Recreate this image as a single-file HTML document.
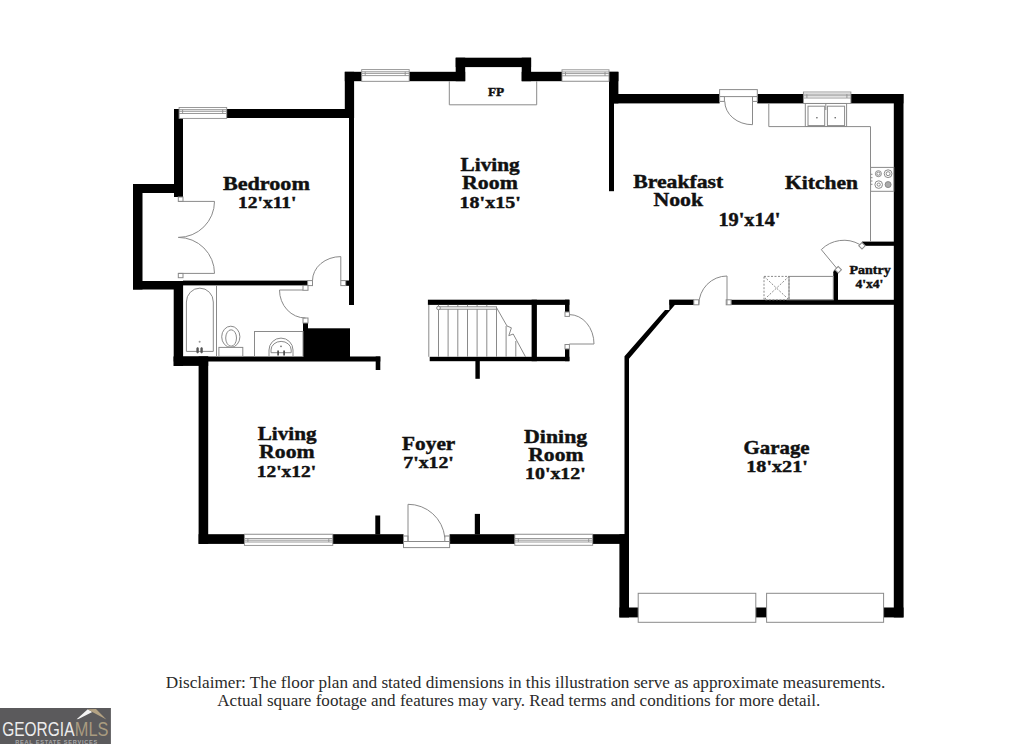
<!DOCTYPE html>
<html><head><meta charset="utf-8">
<style>
html,body{margin:0;padding:0;background:#fff;width:1024px;height:744px;overflow:hidden}
svg{display:block}
.w{fill:#000}
.t{fill:none;stroke:#8a8a8a;stroke-width:1}
.tw{fill:#fff;stroke:#8a8a8a;stroke-width:1}
.lbl{font-family:"Liberation Serif",serif;font-weight:bold;fill:#111;stroke:#111;stroke-width:0.45}
</style></head>
<body>
<svg width="1024" height="744" viewBox="0 0 1024 744">
<!-- WALLS -->
<g class="w">
<!-- closet -->
<rect x="133" y="184" width="50" height="9"/>
<rect x="133" y="184" width="9.5" height="105.5"/>
<rect x="133" y="281" width="50" height="8.5"/>
<!-- bedroom -->
<rect x="174" y="109" width="9" height="88"/>
<rect x="174" y="109" width="180" height="9"/>
<rect x="183" y="280.6" width="125" height="4.8"/>
<rect x="345.7" y="280.5" width="3.5" height="5.3"/>
<!-- living room upper left -->
<rect x="344.8" y="71.8" width="9.3" height="46.2"/>
<rect x="349" y="118" width="5" height="187"/>
<!-- living top wall -->
<rect x="344.8" y="71.8" width="120.4" height="9.4"/>
<rect x="521.7" y="71.8" width="96.7" height="9.4"/>
<!-- FP bump -->
<rect x="455.7" y="57.7" width="75.4" height="9.4"/>
<rect x="455.7" y="57.7" width="9.5" height="23.5"/>
<rect x="521.7" y="57.7" width="9.4" height="23.5"/>
<!-- living right upper -->
<rect x="609" y="71.8" width="9.4" height="31.6"/>
<rect x="609" y="94" width="110.6" height="9.4"/>
<rect x="757.3" y="94" width="146.1" height="9.4"/>
<rect x="609" y="94" width="5" height="97.2"/>
<!-- right outer wall -->
<rect x="893.8" y="94" width="9.7" height="523.4"/>
<!-- pantry -->
<rect x="862" y="241.6" width="32" height="4.2"/>
<path d="M833.3 272.3 A2.35 2.35 0 0 1 838 272.3 L838 302 L833.3 302 Z"/>
<!-- kitchen / garage wall -->
<rect x="669.4" y="299.8" width="24.4" height="5"/>
<rect x="731.1" y="299.8" width="163" height="5"/>
<polygon points="669.3,299.8 694,299.8 694,304.8 675,304.8 629,358.8 629,544 624.5,544 624.5,356.3 665,309.9 669.3,309.9"/>
<!-- garage -->
<rect x="619.4" y="534.2" width="9.6" height="83.2"/>
<rect x="619.4" y="607.5" width="284.1" height="9.9"/>
<!-- main bottom wall -->
<rect x="198.6" y="534.2" width="204.9" height="9.7"/>
<rect x="449.6" y="534.2" width="179.4" height="9.7"/>
<!-- living 12x12 left -->
<rect x="198.6" y="356.5" width="9.6" height="187.4"/>
<!-- bathroom -->
<rect x="173.7" y="356.5" width="206.6" height="5"/>
<rect x="173.7" y="356.5" width="34.5" height="9.4"/>
<rect x="375.7" y="356.5" width="4.6" height="13.5"/>
<rect x="173.7" y="281" width="9.4" height="85"/>
<rect x="303" y="323" width="5" height="34"/>
<rect x="303" y="328.3" width="47" height="28.8"/>
<!-- stairs -->
<rect x="427.9" y="299.7" width="141.5" height="5.2"/>
<rect x="429.7" y="356.8" width="139.7" height="4.4"/>
<rect x="531.6" y="299.7" width="5.3" height="61.5"/>
<rect x="565" y="299.7" width="4.4" height="12.3"/>
<rect x="565" y="349" width="4.4" height="12.2"/>
<rect x="475.4" y="361" width="4.4" height="17.8"/>
<!-- front stubs -->
<rect x="375.3" y="515.5" width="4.9" height="19"/>
<rect x="474.8" y="513.9" width="5.2" height="20.5"/>
</g>
<!-- WINDOWS -->
<g stroke="#8f8f8f" stroke-width="0.9">
<rect x="179.1" y="107.5" width="47.6" height="10.9" fill="#fff"/><line x1="179.1" y1="109.65" x2="226.7" y2="109.65"/><line x1="179.1" y1="111.30" x2="226.7" y2="111.30"/><line x1="179.1" y1="113.50" x2="226.7" y2="113.50"/><path d="M182.6 109.65V113.50M222.7 109.65V113.50"/>
<rect x="361.7" y="69.6" width="47.5" height="11.7" fill="#fff"/><line x1="361.7" y1="71.75" x2="409.2" y2="71.75"/><line x1="361.7" y1="73.40" x2="409.2" y2="73.40"/><line x1="361.7" y1="75.60" x2="409.2" y2="75.60"/><path d="M365.2 71.75V75.60M405.2 71.75V75.60"/>
<rect x="562" y="69.8" width="47.0" height="11.4" fill="#fff"/><line x1="562" y1="71.95" x2="609" y2="71.95"/><line x1="562" y1="73.60" x2="609" y2="73.60"/><line x1="562" y1="75.80" x2="609" y2="75.80"/><path d="M565.5 71.95V75.80M605.0 71.95V75.80"/>
<rect x="803.4" y="92" width="47.5" height="11.4" fill="#fff"/><line x1="803.4" y1="94.15" x2="850.9" y2="94.15"/><line x1="803.4" y1="95.80" x2="850.9" y2="95.80"/><line x1="803.4" y1="98.00" x2="850.9" y2="98.00"/><path d="M806.9 94.15V98.00M846.9 94.15V98.00"/>
<rect x="244.4" y="534.2" width="88.4" height="11.2" fill="#fff"/><line x1="244.4" y1="538.50" x2="332.8" y2="538.50"/><line x1="244.4" y1="540.20" x2="332.8" y2="540.20"/><line x1="244.4" y1="542.00" x2="332.8" y2="542.00"/><path d="M247.9 538.50V542.00M328.8 538.50V542.00"/>
<rect x="514.8" y="534.2" width="77.9" height="11.1" fill="#fff"/><line x1="514.8" y1="538.50" x2="592.7" y2="538.50"/><line x1="514.8" y1="540.20" x2="592.7" y2="540.20"/><line x1="514.8" y1="542.00" x2="592.7" y2="542.00"/><path d="M518.3 538.50V542.00M588.7 538.50V542.00"/>
</g>
<!-- DOORS -->
<g class="t">
<!-- closet double doors -->
<rect class="tw" x="178.3" y="197" width="4.7" height="4.4"/>
<path d="M178.3 201.4 H214.5 A36.2 36 0 0 1 178.3 237.4"/>
<rect class="tw" x="178.3" y="273.4" width="4.7" height="4.3"/>
<path d="M178.3 273.4 H214.5 A36.2 36 0 0 0 178.3 237.4"/>
<!-- bedroom door -->
<rect class="tw" x="307.6" y="280.6" width="4.9" height="5"/>
<rect class="tw" x="340.8" y="280.6" width="4.9" height="5"/>
<path d="M340.8 280.6 V256.6 A28.3 24 0 0 0 312.5 280.6"/>
<!-- bath door -->
<rect class="tw" x="303" y="285.4" width="5" height="4.9"/>
<rect class="tw" x="303" y="318" width="5" height="5"/>
<path d="M303 290 H279.5 A26 28 0 0 0 305.5 318"/>
<!-- breakfast exterior door -->
<rect class="tw" x="719.6" y="89.6" width="37.7" height="7"/>
<rect class="tw" x="719.6" y="96.6" width="4.8" height="4.8"/>
<rect class="tw" x="752.5" y="96.6" width="4.8" height="4.8"/>
<path d="M752.5 101.4 V124.7 A27.7 23.3 0 0 1 724.8 101.4"/>
<!-- pantry door -->
<rect class="tw" x="859.7" y="243.4" width="4.6" height="4.6" transform="rotate(45 862 245.7)"/>
<rect class="tw" x="835.9" y="267.5" width="4.6" height="4.6" transform="rotate(45 838.2 269.8)"/>
<path d="M836.5 268 L821.3 249.6 A32 32 0 0 1 859.8 244.5"/>
<!-- kitchen-garage door -->
<rect class="tw" x="693.8" y="299.8" width="5" height="5"/>
<rect class="tw" x="726.2" y="299.8" width="4.9" height="5"/>
<path d="M727 304.8 V276 A28.2 28.8 0 0 0 698.8 304.8"/>
<!-- stair closet door -->
<rect class="tw" x="565" y="312" width="4.4" height="4.4"/>
<rect class="tw" x="565" y="344.5" width="4.4" height="4.4"/>
<path d="M569.4 344 H594 A24.6 29.4 0 0 0 569.4 314.6"/>
<!-- front door -->
<rect class="tw" x="403.5" y="541.5" width="46.1" height="6.1"/>
<rect class="tw" x="403.5" y="536" width="4.5" height="5.5"/>
<rect class="tw" x="444.8" y="536" width="4.8" height="5.5"/>
<path d="M408 541.5 V504.3 A36.8 37 0 0 1 444.8 537.4"/>
</g>
<!-- FIXTURES -->
<g class="t">
<!-- FP -->
<path d="M449.3 81.2 V104.8 H536.7 V81.2"/>
<!-- tub -->
<line x1="216.5" y1="285.4" x2="216.5" y2="356.5"/>
<path d="M186.4 351.4 V302 A13.4 13.8 0 0 1 213.3 302 V351.4 Z"/>
<circle cx="199.6" cy="341.7" r="1" fill="#999" stroke="none"/>
<rect x="196.7" y="347.5" width="1.8" height="5.5" rx="0.9" fill="#555" stroke="#555" stroke-width="0.6"/>
<rect x="200.7" y="347.5" width="1.8" height="5.5" rx="0.9" fill="#555" stroke="#555" stroke-width="0.6"/>
<!-- toilet -->
<ellipse cx="230.8" cy="336.8" rx="9.1" ry="10.6"/>
<ellipse cx="231.1" cy="338" rx="5.4" ry="8.2"/>
<rect class="tw" x="218.9" y="347.4" width="23.9" height="9"/>
<!-- bath sink -->
<rect x="254.5" y="331.5" width="48.5" height="25"/>
<path d="M269 356.3 V350 A12 11.9 0 0 1 293 350 V356.3"/>
<path d="M271 352.7 V350 A10.1 8.6 0 0 1 291.2 350 V352.7 Z"/>
<circle cx="281" cy="346.3" r="0.9" fill="#777" stroke="none"/>
<rect x="277.3" y="350.5" width="1.6" height="5" fill="#444" stroke="none"/>
<rect x="283.3" y="350.5" width="1.6" height="5" fill="#444" stroke="none"/>
<!-- stairs -->
<line x1="428.8" y1="304.9" x2="428.8" y2="356.8"/><line x1="438.5" y1="304.9" x2="438.5" y2="356.8"/><line x1="448.1" y1="304.9" x2="448.1" y2="356.8"/><line x1="457.8" y1="304.9" x2="457.8" y2="356.8"/><line x1="467.5" y1="304.9" x2="467.5" y2="356.8"/><line x1="477.1" y1="304.9" x2="477.1" y2="356.8"/><line x1="486.8" y1="304.9" x2="486.8" y2="356.8"/>
<line x1="496.5" y1="307.6" x2="496.5" y2="356.8"/>
<line x1="506.1" y1="326" x2="506.1" y2="356.8"/>
<line x1="515.8" y1="341" x2="515.8" y2="356.8"/>
<rect x="438.5" y="306.8" width="58" height="2.4" fill="#fff"/>
<circle cx="438.5" cy="308" r="1.8" fill="#fff"/>
<polyline points="496.5,307.6 507,326 511.4,327.8 508.8,335.7 513.2,334 525.5,356.8"/>
<!-- kitchen counter -->
<polyline points="768.8,103.4 768.8,126.6 870.5,126.6 870.5,241.6"/>
<!-- kitchen sink -->
<rect class="tw" x="805.3" y="103.5" width="41.3" height="23"/>
<rect x="808" y="106.2" width="16.7" height="19.4"/>
<rect x="827.4" y="106.2" width="17.2" height="19.4"/>
<circle cx="816.9" cy="117.8" r="0.8" fill="#555" stroke="none"/>
<circle cx="835.2" cy="117.8" r="0.8" fill="#555" stroke="none"/>
<line x1="825.8" y1="103.5" x2="825.8" y2="110"/>
<!-- stove -->
<rect class="tw" x="870.6" y="167.4" width="23.2" height="23.9"/>
<circle cx="878.4" cy="173.7" r="3"/><circle cx="878.4" cy="173.7" r="1.6"/>
<circle cx="888.1" cy="173.7" r="3.9"/><circle cx="888.1" cy="173.7" r="2"/>
<circle cx="878.7" cy="184.6" r="3.8"/><circle cx="878.7" cy="184.6" r="1.6"/>
<circle cx="888.1" cy="184.6" r="3" fill="#aaa"/>
<line x1="870.6" y1="174.3" x2="872.5" y2="174.3"/>
<line x1="870.6" y1="177.7" x2="872.5" y2="177.7"/>
<line x1="870.6" y1="181" x2="872.5" y2="181"/>
<line x1="870.6" y1="184.3" x2="872.5" y2="184.3"/>
<!-- pantry counter & dashed box -->
<rect x="789" y="276.4" width="44.3" height="23.4"/>
<g stroke-dasharray="2,1.5">
<rect x="764" y="276.4" width="25" height="23.4"/>
<line x1="764" y1="276.4" x2="789" y2="299.8"/>
<line x1="789" y1="276.4" x2="764" y2="299.8"/>
</g>
<!-- garage doors -->
<rect class="tw" x="638.2" y="593.3" width="117.6" height="29"/>
<rect class="tw" x="766.6" y="593.3" width="117" height="29"/>
</g>
<!-- LABELS -->
<g class="lbl">
<text x="222.9" y="189.5" font-size="19.5" textLength="87.0" lengthAdjust="spacingAndGlyphs">Bedroom</text>
<text x="238.1" y="207.7" font-size="16.5" textLength="58.3" lengthAdjust="spacingAndGlyphs">12'x11'</text>
<text x="460.6" y="170.6" font-size="19.5" textLength="59.1" lengthAdjust="spacingAndGlyphs">Living</text>
<text x="462.1" y="188.75" font-size="19.5" textLength="55.7" lengthAdjust="spacingAndGlyphs">Room</text>
<text x="459.6" y="207.5" font-size="17" textLength="61.1" lengthAdjust="spacingAndGlyphs">18'x15'</text>
<text x="633.2" y="187.85" font-size="19.5" textLength="90.1" lengthAdjust="spacingAndGlyphs">Breakfast</text>
<text x="653.4" y="206.3" font-size="19.5" textLength="49.7" lengthAdjust="spacingAndGlyphs">Nook</text>
<text x="718.4" y="225.6" font-size="18" textLength="62.1" lengthAdjust="spacingAndGlyphs">19'x14'</text>
<text x="785" y="188.7" font-size="19.5" textLength="73.0" lengthAdjust="spacingAndGlyphs">Kitchen</text>
<text x="849.6" y="274" font-size="13" textLength="41.1" lengthAdjust="spacingAndGlyphs">Pantry</text>
<text x="855.4" y="288" font-size="13" textLength="27.9" lengthAdjust="spacingAndGlyphs">4'x4'</text>
<text x="257.7" y="440.4" font-size="19.5" textLength="58.8" lengthAdjust="spacingAndGlyphs">Living</text>
<text x="259.1" y="458.3" font-size="19.5" textLength="55.5" lengthAdjust="spacingAndGlyphs">Room</text>
<text x="256.8" y="476.6" font-size="16.5" textLength="59.3" lengthAdjust="spacingAndGlyphs">12'x12'</text>
<text x="402.1" y="450.4" font-size="19.5" textLength="53.2" lengthAdjust="spacingAndGlyphs">Foyer</text>
<text x="403.3" y="468.4" font-size="16.5" textLength="50.5" lengthAdjust="spacingAndGlyphs">7'x12'</text>
<text x="524.1" y="442.6" font-size="19.5" textLength="63.1" lengthAdjust="spacingAndGlyphs">Dining</text>
<text x="528.3" y="460.9" font-size="19.5" textLength="55.1" lengthAdjust="spacingAndGlyphs">Room</text>
<text x="525" y="479.3" font-size="16.5" textLength="60.8" lengthAdjust="spacingAndGlyphs">10'x12'</text>
<text x="743.6" y="453.7" font-size="19.5" textLength="66.0" lengthAdjust="spacingAndGlyphs">Garage</text>
<text x="746.3" y="472.2" font-size="17" textLength="61.5" lengthAdjust="spacingAndGlyphs">18'x21'</text>
<text x="488" y="95.8" font-size="12.8" textLength="16.2" lengthAdjust="spacingAndGlyphs">FP</text>
</g>
<!-- DISCLAIMER -->
<g font-family="Liberation Serif, serif" fill="#2a2a2a" font-size="16">
<text x="165.8" y="687.6" textLength="719.5" lengthAdjust="spacingAndGlyphs">Disclaimer: The floor plan and stated dimensions in this illustration serve as approximate measurements.</text>
<text x="217.3" y="706" textLength="603" lengthAdjust="spacingAndGlyphs">Actual square footage and features may vary. Read terms and conditions for more detail.</text>
</g>
<!-- LOGO -->
<g>
<rect x="0" y="708" width="110.9" height="36" fill="#5b5a5c"/>
<polygon points="76.6,719.3 87.8,709.3 92.3,711.9 78.5,719.1" fill="#f4f4f4"/>
<polygon points="87.8,709.2 96,708.9 106.4,719.5 92.3,711.9" fill="#b3a283"/>
<text x="2.2" y="735.6" font-family="Liberation Sans, sans-serif" font-size="19.6" fill="#ececec" textLength="72.3" lengthAdjust="spacingAndGlyphs">GEORGIA</text>
<text x="74.8" y="735.6" font-family="Liberation Sans, sans-serif" font-size="19.6" fill="#a99c80" textLength="33.6" lengthAdjust="spacingAndGlyphs">MLS</text>
<text x="15.2" y="743.6" font-family="Liberation Sans, sans-serif" font-weight="bold" font-size="5.6" fill="#a9a9a9" textLength="82" lengthAdjust="spacing">REAL ESTATE SERVICES</text>
</g>
</svg>
</body></html>
